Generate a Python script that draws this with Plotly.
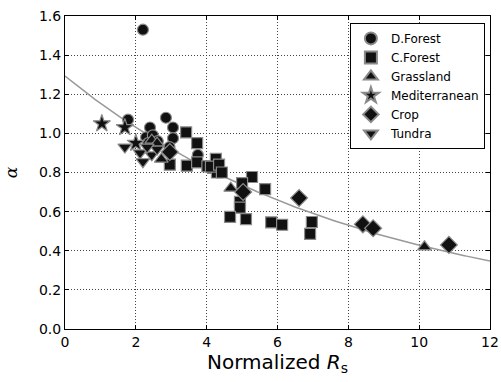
import numpy as np
import plotly.graph_objects as go

# Data
dforest_x = [1.78, 2.20, 2.29, 2.40, 2.48, 2.85, 3.05, 3.05, 2.95, 2.35, 3.75, 2.62]
dforest_y = [1.07, 1.53, 0.98, 1.03, 0.99, 1.08, 1.03, 0.975, 0.93, 0.95, 0.89, 0.96]

cforest_x = [3.42, 3.73, 2.96, 3.44, 3.73, 4.02, 4.18, 4.29, 4.26, 4.12, 4.35, 4.43,
             5.28, 5.00, 5.65, 4.94, 4.94, 4.66, 5.11, 5.82, 6.13, 6.97, 6.92]
cforest_y = [1.005, 0.95, 0.84, 0.835, 0.852, 0.832, 0.823, 0.80, 0.87, 0.83, 0.84, 0.80,
             0.777, 0.746, 0.715, 0.65, 0.62, 0.573, 0.562, 0.545, 0.533, 0.547, 0.486]

grass_x = [2.45, 2.60, 2.72, 4.68, 10.15]
grass_y = [0.965, 0.95, 0.868, 0.72, 0.42]

med_x = [1.04, 1.69, 2.00]
med_y = [1.05, 1.03, 0.95]

crop_x = [2.96, 5.03, 6.61, 8.41, 8.70, 10.84]
crop_y = [0.905, 0.70, 0.67, 0.535, 0.515, 0.43]

tundra_x = [1.69, 2.12, 2.20, 2.45, 2.60, 2.32]
tundra_y = [0.93, 0.90, 0.855, 0.89, 0.92, 0.93]

# fitted curve parameters: alpha = a*exp(-b*x) + c
fit_a, fit_b, fit_c = 1.243, 0.119, 0.05

x_ticks = [0, 2, 4, 6, 8, 10, 12]
y_ticks = [0.0, 0.2, 0.4, 0.6, 0.8, 1.0, 1.2, 1.4, 1.6]

fig = go.Figure()

xf = np.linspace(0, 12, 200)
fig.add_trace(go.Scatter(x=xf, y=fit_a * np.exp(-fit_b * xf) + fit_c, mode="lines",
                         line=dict(color="#999999", width=1.5), showlegend=False,
                         hoverinfo="skip"))

series = [
    ("D.Forest", dforest_x, dforest_y, "circle", 11),
    ("C.Forest", cforest_x, cforest_y, "square", 11),
    ("Grassland", grass_x, grass_y, "triangle-up", 12),
    ("Mediterranean", med_x, med_y, "star", 13),
    ("Crop", crop_x, crop_y, "diamond", 13),
    ("Tundra", tundra_x, tundra_y, "triangle-down", 12),
]
for name, xs, ys, sym, sz in series:
    fig.add_trace(go.Scatter(x=xs, y=ys, mode="markers", name=name,
                             marker=dict(symbol=sym, size=sz, color="#111111",
                                         line=dict(color="#8a8a8a", width=1.2))))

axis_common = dict(showline=True, linecolor="black", linewidth=1, mirror="ticks",
                   ticks="inside", ticklen=4, tickcolor="black", automargin=False,
                   showgrid=True, gridcolor="#444444", griddash="1px,2px", gridwidth=1,
                   zeroline=False, tickfont=dict(family="DejaVu Sans", size=14, color="black"))

fig.update_xaxes(range=[0, 12], tickvals=x_ticks, ticktext=[str(v) for v in x_ticks],
                 title=dict(text="Normalized <i>R</i><sub>s</sub>",
                            font=dict(family="DejaVu Sans", size=20, color="black"),
                            standoff=6),
                 **axis_common)
fig.update_yaxes(range=[0, 1.6], tickvals=y_ticks, ticktext=[f"{v:.1f}" for v in y_ticks],
                 title=dict(text="<i>α</i>", font=dict(family="DejaVu Serif", size=17, color="black"),
                            standoff=16),
                 **axis_common)

fig.update_layout(
    width=501, height=382,
    margin=dict(l=65, r=11, t=16, b=53),
    plot_bgcolor="white", paper_bgcolor="white",
    legend=dict(x=0.988, y=0.978, xanchor="right", yanchor="top",
                bordercolor="black", borderwidth=1, bgcolor="white",
                font=dict(family="DejaVu Sans", size=12, color="black"),
                tracegroupgap=0, itemsizing="constant", itemwidth=30),
)

fig.write_html("out.html")
